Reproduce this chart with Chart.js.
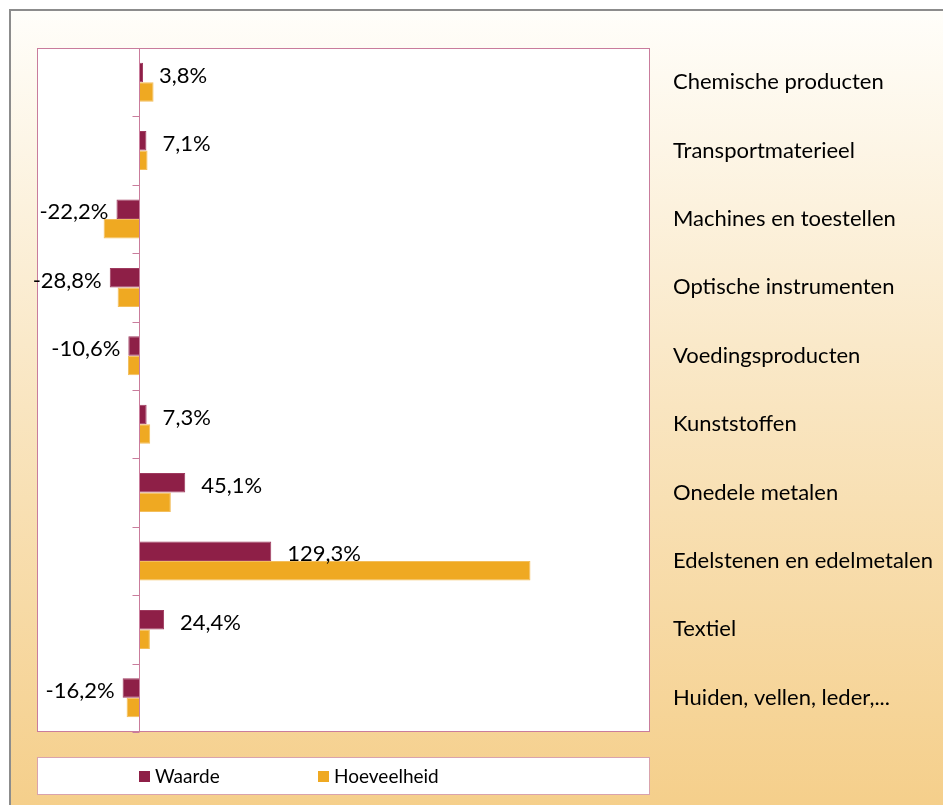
<!DOCTYPE html>
<html>
<head>
<meta charset="utf-8">
<script src="https://cdn.jsdelivr.net/npm/chart.js@4.4.1/dist/chart.umd.min.js"></script>
<style>
  html, body { margin: 0; padding: 0; background: #fff; }
  #wrap { width: 943px; height: 805px; }
</style>
</head>
<body>
<div id="wrap"><canvas id="chart" width="943" height="805"></canvas></div>
<script>
// data
const categories = [
    'Chemische producten',
    'Transportmaterieel',
    'Machines en toestellen',
    'Optische instrumenten',
    'Voedingsproducten',
    'Kunststoffen',
    'Onedele metalen',
    'Edelstenen en edelmetalen',
    'Textiel',
    'Huiden, vellen, leder,...'
];
const waarde = [3.8, 7.1, -22.2, -28.8, -10.6, 7.3, 45.1, 129.3, 24.4, -16.2];
const hoeveelheid = [14.1, 8.2, -34.8, -21.1, -11, 10.8, 31, 383, 10.5, -12.3];
const seriesNames = ['Waarde', 'Hoeveelheid'];

const FONT = 'Lato, "Noto Sans", sans-serif';
const PINK = '#c97c9c';

const fmt = v => v.toFixed(1).replace('.', ',') + '%';

// page background + outer frame
const backdrop = {
    id: 'backdrop',
    beforeDraw(chart) {
        const ctx = chart.ctx;
        const w = chart.width, h = chart.height;
        ctx.save();
        ctx.fillStyle = '#ffffff';
        ctx.fillRect(0, 0, w, h);
        const g = ctx.createLinearGradient(0, 10, 0, h);
        g.addColorStop(0, '#fffefa');
        g.addColorStop(0.5, '#f9e5c0');
        g.addColorStop(1, '#f5cf8b');
        ctx.fillStyle = g;
        ctx.fillRect(10, 10, w - 10, h - 10);
        ctx.strokeStyle = '#8c8c8c';
        ctx.lineWidth = 2;
        ctx.beginPath();
        ctx.moveTo(10, h);
        ctx.lineTo(10, 10);
        ctx.lineTo(w, 10);
        ctx.stroke();
        // plot area
        const a = chart.chartArea;
        ctx.fillStyle = '#ffffff';
        ctx.fillRect(a.left, a.top, a.right - a.left, a.bottom - a.top);
        ctx.restore();
    },
    afterDatasetsDraw(chart) {
        const ctx = chart.ctx;
        const a = chart.chartArea;
        const x0 = Math.round(chart.scales.x.getPixelForValue(0)) + 0.5;
        const ys = chart.scales.y;
        ctx.save();
        ctx.strokeStyle = PINK;
        ctx.lineWidth = 1;
        ctx.strokeRect(a.left + 0.5, a.top + 0.5, a.right - a.left - 1, a.bottom - a.top - 1);
        ctx.beginPath();
        ctx.moveTo(x0, a.top);
        ctx.lineTo(x0, a.bottom);
        for (let i = 0; i <= categories.length; i++) {
            const y = Math.round(ys.getPixelForValue(i - 0.5)) + 0.5;
            ctx.moveTo(x0 - 7, y);
            ctx.lineTo(x0, y);
        }
        ctx.stroke();

        // value labels for Waarde
        const meta = chart.getDatasetMeta(0);
        ctx.fillStyle = '#000';
        ctx.font = '22px ' + FONT;
        ctx.textBaseline = 'middle';
        meta.data.forEach((bar, i) => {
            const v = waarde[i];
            if (v >= 0) {
                ctx.textAlign = 'left';
                ctx.fillText(fmt(v), bar.x + 16, bar.y + 3);
            } else {
                ctx.textAlign = 'right';
                ctx.fillText(fmt(v), bar.x - 8, bar.y + 3);
            }
        });

        // legend box
        const lx = a.left, ly = 757, lw = a.right - a.left, lh = 38;
        ctx.fillStyle = '#ffffff';
        ctx.fillRect(lx, ly, lw, lh);
        ctx.strokeStyle = '#d9a3ad';
        ctx.strokeRect(lx + 0.5, ly + 0.5, lw - 1, lh - 1);
        const items = [139, 318];
        chart.data.datasets.forEach((ds, i) => {
            const x = items[i];
            ctx.fillStyle = ds.backgroundColor;
            ctx.fillRect(x, ly + 14, 11, 11);
            ctx.fillStyle = '#000';
            ctx.textAlign = 'left';
            ctx.font = '19px ' + FONT;
            ctx.fillText(ds.label, x + 16, ly + 20);
        });
        ctx.restore();
    }
};

new Chart(document.getElementById('chart'), {
    type: 'bar',
    data: {
        labels: categories,
        datasets: [
            {
                label: seriesNames[0],
                data: waarde,
                backgroundColor: '#8e1f47',
                borderColor: '#9e3a5e',
                borderWidth: 1,
                barPercentage: 1,
                categoryPercentage: 0.57
            },
            {
                label: seriesNames[1],
                data: hoeveelheid,
                backgroundColor: '#efa922',
                borderColor: '#f3be5c',
                borderWidth: 1,
                barPercentage: 1,
                categoryPercentage: 0.57
            }
        ]
    },
    options: {
        indexAxis: 'y',
        responsive: false,
        animation: false,
        layout: {
            padding: { left: 37, top: 48, bottom: 73, right: 0 }
        },
        plugins: {
            legend: { display: false },
            tooltip: { enabled: false }
        },
        scales: {
            x: {
                display: false,
                min: -100,
                max: 500
            },
            y: {
                position: 'right',
                grid: { display: false },
                border: { display: false },
                afterFit(scale) { scale.width = 293; },
                ticks: {
                    padding: 15,
                    color: '#000',
                    font: { family: FONT, size: 22 }
                }
            }
        }
    },
    plugins: [backdrop]
});
</script>
</body>
</html>
